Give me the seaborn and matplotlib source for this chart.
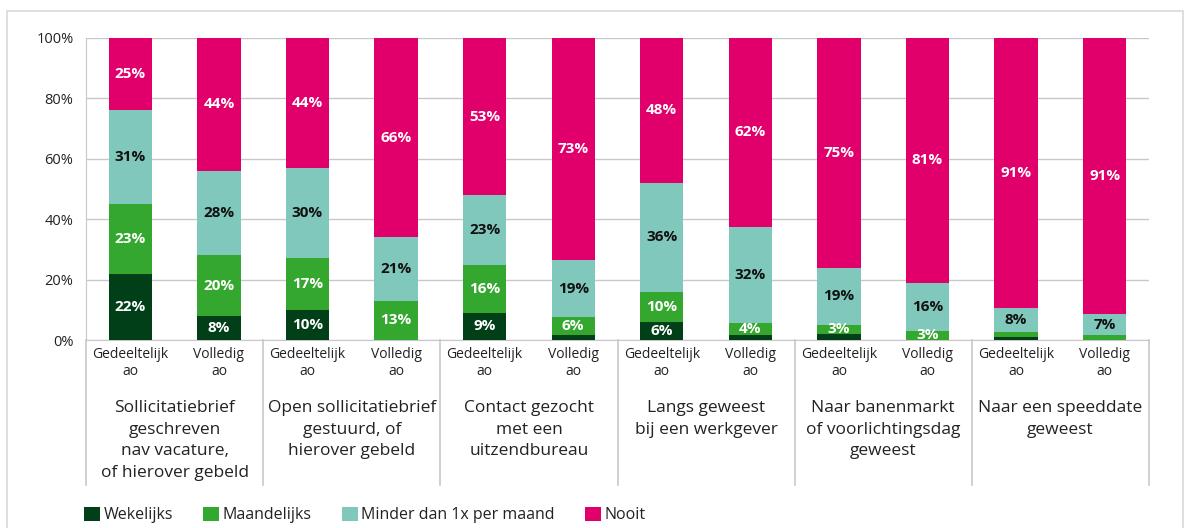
import numpy as np
import pandas as pd
import matplotlib.pyplot as plt
import matplotlib.transforms as mtransforms
from matplotlib.patches import Patch, Rectangle
import seaborn as sns

# Data
groups = [
    "Sollicitatiebrief\ngeschreven\nnav vacature,\nof hierover gebeld",
    "Open sollicitatiebrief\ngestuurd, of\nhierover gebeld",
    "Contact gezocht\nmet een\nuitzendbureau",
    "Langs geweest\nbij een werkgever",
    "Naar banenmarkt\nof voorlichtingsdag\ngeweest",
    "Naar een speeddate\ngeweest",
]
sub_labels = ["Gedeeltelijk\nao", "Volledig\nao"]
series_names = ["Wekelijks", "Maandelijks", "Minder dan 1x per maand", "Nooit"]
wekelijks = [22, 8, 10, 0, 9, 1.5, 6, 1.5, 2, 0, 1, 0]
maandelijks = [23, 20, 17, 13, 16, 6, 10, 4, 3, 3, 1.5, 1.5]
minder = [31, 28, 30, 21, 23, 19, 36, 32, 19, 16, 8, 7]
nooit = [25, 44, 44, 66, 53, 73, 48, 62, 75, 81, 91, 91]

colors = ["#003f17", "#34a82e", "#80c8bc", "#e1006b"]
label_colors = ["white", "white", "#111111", "white"]

plt.rcParams['font.family'] = ['Open Sans', 'DejaVu Sans']

fig = plt.figure(figsize=(11.85, 5.28), dpi=100)
ax = fig.add_axes([86 / 1185, 1 - 340 / 528, (1149 - 86) / 1185, (340 - 38) / 528])

layers = [wekelijks, maandelijks, minder, nooit]
cums = np.cumsum(np.array(layers, dtype=float), axis=0)
# 100% stacked: the top layer (Nooit) fills up to 100% (rounded shares)
cums[-1] = 100
positions = list(range(len(wekelijks)))

df = pd.DataFrame({"pos": positions})
for name, c in zip(series_names, cums):
    df[name] = c

# draw cumulative totals from the top layer down so they overlay into stacks
for name, col in reversed(list(zip(series_names, colors))):
    sns.barplot(data=df, x="pos", y=name, color=col, saturation=1, width=0.49,
                errorbar=None, linewidth=0, ax=ax, zorder=3)

ax.set_ylim(0, 100)
ax.set_xlim(-0.5, len(positions) - 0.5)

# value labels
for k, vals in enumerate(layers):
    for i, v in enumerate(vals):
        if v < 3:
            continue
        bottom = cums[k - 1][i] if k > 0 else 0
        top = min(cums[k][i], 100)
        ax.text(i, (bottom + top) / 2, f"{v:.0f}%", ha="center", va="center",
                color=label_colors[k], fontsize=11, fontweight="bold", zorder=5)

# axes styling
ax.set_yticks(range(0, 101, 20))
ax.set_yticklabels([f"{t}%" for t in range(0, 101, 20)], fontsize=10.5, color="#222222")
ax.yaxis.grid(True, color="#c8c8c8", linewidth=1, zorder=0)
ax.set_axisbelow(True)
ax.tick_params(axis="y", length=0, pad=9)
ax.tick_params(axis="x", length=0, pad=5)
ax.set_xticks(positions)
ax.set_xticklabels(sub_labels * len(groups), fontsize=10, color="#222222", linespacing=1.15)
ax.set_xlabel("")
ax.set_ylabel("")
for s in ["top", "right"]:
    ax.spines[s].set_visible(False)
ax.spines["left"].set_color("#c8c8c8")
ax.spines["bottom"].set_color("#c8c8c8")

# group separators and group labels under the axis
trans = mtransforms.blended_transform_factory(ax.transData, ax.transAxes)
for b in np.arange(-0.5, len(positions), 2):
    ax.plot([b, b], [0, -0.48], color="#c8c8c8", linewidth=1.2, transform=trans, clip_on=False)
for g, label in enumerate(groups):
    ax.text(2 * g + 0.5, -0.2, label, transform=trans, ha="center", va="top",
            fontsize=12.5, color="#222222", linespacing=1.45)

# legend
handles = [Patch(facecolor=c, edgecolor="none") for c in colors]
fig.legend(handles, series_names, loc="center left", bbox_to_anchor=(78 / 1185, 1 - 515 / 528),
           borderaxespad=0, ncol=4, frameon=False, fontsize=11.5, handlelength=1.0,
           handleheight=1.0, handletextpad=0.2, columnspacing=1.9, labelcolor="#222222")

# light outer frame
fig.patches.append(Rectangle((7 / 1185, -0.05), (1183 - 7) / 1185, 1.05 - 11 / 528,
                             transform=fig.transFigure, fill=False, edgecolor="#d9d9d9",
                             linewidth=1.2))

plt.savefig("out.png", dpi=100)
plt.close()
